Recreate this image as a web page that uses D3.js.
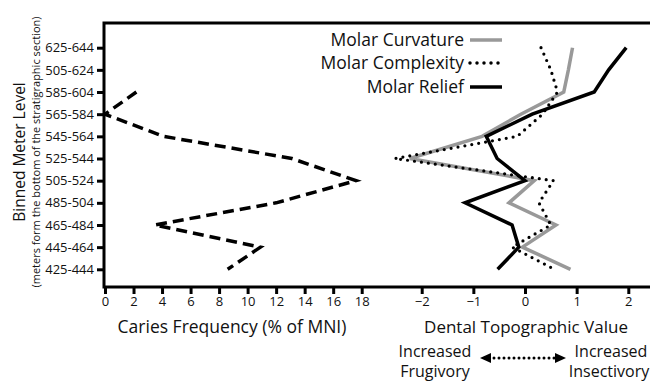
<!DOCTYPE html>
<html>
<head>
<meta charset="UTF-8">
<script src="https://cdn.jsdelivr.net/npm/d3@7"></script>
<style>
  body { margin: 0; background: #fff; }
  text { font-family: "Open Sans", sans-serif; fill: #111; }
</style>
</head>
<body>
<svg id="chart" width="650" height="384"></svg>
<script>
// binned levels, top to bottom (label "505-624" as printed)
const levels = ["625-644", "505-624", "585-604", "565-584", "545-564", "525-544",
                "505-524", "485-504", "465-484", "445-464", "425-444"];
const caries = [null, null, 2.2, 0, 4.1, 13.1, 17.6, 12.0, 3.5, 10.9, 8.6];
const curvature = [0.92, 0.84, 0.75, -0.08, -0.83, -2.23, 0.18, -0.31, 0.6, -0.05, 0.88];
const complexity = [0.31, 0.5, 0.63, 0.34, -0.15, -2.52, 0.55, 0.27, 0.5, -0.25, 0.57];
const relief = [1.96, 1.62, 1.34, 0.14, -0.75, -0.54, 0.0, -1.16, -0.25, -0.12, -0.53];
const cariesTicks = [0, 2, 4, 6, 8, 10, 12, 14, 16, 18];
const topoTicks = [-2, -1, 0, 1, 2];

const svg = d3.select("#chart");
const frame = { left: 104, top: 23, bottom: 287, right: 660 };

const y = d3.scalePoint().domain(levels).range([47.7, 269.3]);
const xC = d3.scaleLinear().domain([0, 18]).range([105, 361.7]);
const xT = d3.scaleLinear().domain([-2, 2]).range([421.7, 628.3]);

// frame
svg.append("rect")
  .attr("x", frame.left).attr("y", frame.top)
  .attr("width", frame.right - frame.left).attr("height", frame.bottom - frame.top)
  .attr("fill", "none").attr("stroke", "#000").attr("stroke-width", 3);

// y axis
const yAxis = svg.append("g").attr("transform", `translate(${frame.left},0)`)
  .call(d3.axisLeft(y).tickSize(7).tickPadding(3));
yAxis.select(".domain").remove();
yAxis.selectAll("line").attr("stroke-width", 3);
yAxis.selectAll("text").style("font-size", "13px").style("font-family", "Open Sans");

// bottom axes
function bottomAxis(scale, ticks, fmt) {
  const g = svg.append("g").attr("transform", `translate(0,${frame.bottom})`)
    .call(d3.axisBottom(scale).tickValues(ticks).tickSize(7).tickPadding(3).tickFormat(fmt));
  g.select(".domain").remove();
  g.selectAll("line").attr("stroke-width", 3);
  g.selectAll("text").style("font-size", "13px").style("font-family", "Open Sans");
}
bottomAxis(xC, cariesTicks, d3.format("d"));
bottomAxis(xT, topoTicks, d => d < 0 ? "\u2212" + Math.abs(d) : d);

// series
const lineC = d3.line().defined(d => d.v !== null).x(d => xC(d.v)).y(d => y(d.k));
const lineT = d3.line().x(d => xT(d.v)).y(d => y(d.k));
const pair = arr => arr.map((v, i) => ({ k: levels[i], v: v }));

svg.append("path").attr("d", lineC(pair(caries)))
  .attr("fill", "none").attr("stroke", "#000").attr("stroke-width", 3.5)
  .attr("stroke-dasharray", "11,6");

svg.append("path").attr("d", lineT(pair(curvature)))
  .attr("fill", "none").attr("stroke", "#999").attr("stroke-width", 3.5);
svg.append("path").attr("d", lineT(pair(complexity)))
  .attr("fill", "none").attr("stroke", "#000").attr("stroke-width", 3.2)
  .attr("stroke-linecap", "round").attr("stroke-dasharray", "0,7");
svg.append("path").attr("d", lineT(pair(relief)))
  .attr("fill", "none").attr("stroke", "#000").attr("stroke-width", 3.5);

// legend
const legend = [
  { name: "Molar Curvature", color: "#999", dash: null, y: 40 },
  { name: "Molar Complexity", color: "#000", dash: "0,7", y: 63 },
  { name: "Molar Relief", color: "#000", dash: null, y: 87 }
];
legend.forEach(l => {
  svg.append("text").attr("x", 464).attr("y", l.y + 6).attr("text-anchor", "end")
    .style("font-size", "17.5px").text(l.name);
  svg.append("line").attr("x1", 470).attr("x2", 502).attr("y1", l.y).attr("y2", l.y)
    .attr("stroke", l.color).attr("stroke-width", 3.5)
    .attr("stroke-linecap", l.dash ? "round" : "butt")
    .attr("stroke-dasharray", l.dash);
});

// axis titles
svg.append("text").attr("x", 232).attr("y", 333).attr("text-anchor", "middle")
  .style("font-size", "17.5px").text("Caries Frequency (% of MNI)");
svg.append("text").attr("x", 526).attr("y", 333).attr("text-anchor", "middle")
  .style("font-size", "17px").text("Dental Topographic Value");
svg.append("text").attr("transform", "translate(25,152) rotate(-90)").attr("text-anchor", "middle")
  .style("font-size", "15.5px").text("Binned Meter Level");
svg.append("text").attr("transform", "translate(40,152) rotate(-90)").attr("text-anchor", "middle")
  .style("font-size", "11px").text("(meters form the bottom of the stratigraphic section)");

// diet annotation
const ann = svg.append("g").style("font-size", "16px");
ann.append("text").attr("x", 435).attr("y", 357).attr("text-anchor", "middle").text("Increased");
ann.append("text").attr("x", 435).attr("y", 377).attr("text-anchor", "middle").text("Frugivory");
ann.append("text").attr("x", 611).attr("y", 357).attr("text-anchor", "middle").text("Increased");
ann.append("text").attr("x", 609).attr("y", 377).attr("text-anchor", "middle").text("Insectivory");
svg.append("line").attr("x1", 489).attr("x2", 557).attr("y1", 358).attr("y2", 358)
  .attr("stroke", "#000").attr("stroke-width", 3).attr("stroke-linecap", "round")
  .attr("stroke-dasharray", "0,5");
svg.append("path").attr("d", "M480,358 L491,353 L491,363 Z").attr("fill", "#000");
svg.append("path").attr("d", "M566,358 L555,353 L555,363 Z").attr("fill", "#000");
</script>
</body>
</html>
